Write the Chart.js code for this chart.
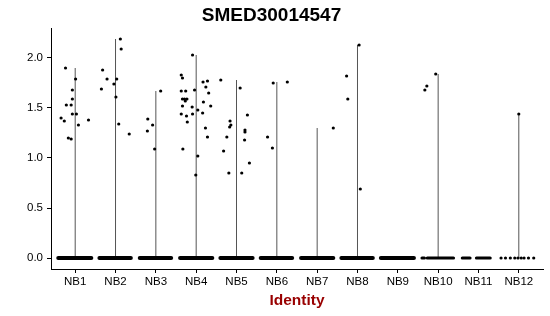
<!DOCTYPE html>
<html><head><meta charset="utf-8">
<script src="https://cdn.jsdelivr.net/npm/chart.js@4"></script>
<style>html,body{margin:0;padding:0;background:#fff}</style>
</head><body>
<canvas id="c" width="550" height="316"></canvas>
<script>
const categories = ['NB1','NB2','NB3','NB4','NB5','NB6','NB7','NB8','NB9','NB10','NB11','NB12'];
const yTicks = [0, 0.5, 1.0, 1.5, 2.0];
const titleText = 'SMED30014547';
const xTitle = 'Identity';

// non-zero expression values per cluster
const nonzeroValues = [
  [1.90,1.40,1.37,1.53,1.53,1.59,1.68,1.79,1.44,1.44,1.33,1.20,1.19,1.38],
  [1.88,1.79,1.69,1.74,1.79,1.61,2.19,2.09,1.34,1.24],
  [1.39,1.27,1.33,1.09,1.67],
  [2.03,1.83,1.80,1.67,1.67,1.68,1.59,1.59,1.59,1.57,1.52,1.51,1.44,1.42,1.36,1.44,1.48,1.76,1.77,1.71,1.65,1.56,1.52,1.45,1.30,1.21,1.09,1.02,0.83],
  [1.78,1.70,1.37,1.31,1.33,1.21,1.07,1.43,1.28,1.26,1.18,0.85,0.85,0.95],
  [1.75,1.76,1.10,1.21],
  [1.30],
  [2.13,1.82,1.59,0.69],
  [],
  [1.84,1.72,1.68],
  [],
  [1.44]
];
// horizontal jitter of each point (category units)
const jitterOffsets = [
  [-0.24,-0.35,-0.27,-0.22,-0.10,-0.07,-0.07,0.01,-0.07,0.03,0.08,-0.17,-0.10,0.33],
  [-0.32,-0.21,-0.35,-0.04,0.03,0.01,0.12,0.14,0.08,0.34],
  [-0.20,-0.21,-0.08,-0.03,0.12],
  [-0.09,-0.37,-0.34,-0.37,-0.26,-0.04,-0.34,-0.29,-0.23,-0.27,-0.34,-0.10,-0.37,-0.24,-0.22,-0.09,0.04,0.17,0.28,0.24,0.31,0.18,0.36,0.16,0.23,0.28,-0.33,0.04,-0.01],
  [-0.39,0.09,-0.16,-0.17,-0.14,-0.24,-0.32,0.27,0.21,0.21,0.20,-0.19,0.13,0.32],
  [-0.09,0.26,-0.11,-0.23],
  [0.40],
  [0.04,-0.27,-0.24,0.07],
  [],
  [-0.06,-0.28,-0.33],
  [],
  [0.00]
];
// spans of the dense zero-valued point bands (category units)
const zeroBands = [
  [[-0.42,0.40]],[[-0.40,0.38]],[[-0.40,0.38]],[[-0.40,0.40]],[[-0.40,0.40]],
  [[-0.40,0.38]],[[-0.40,0.40]],[[-0.40,0.38]],[[-0.42,0.40]],
  [[-0.40,-0.34],[-0.27,0.38]],[[-0.40,-0.21],[-0.05,0.29]],[]
];
// single zero-valued points where the band is sparse (NB12)
const zeroDots = [[],[],[],[],[],[],[],[],[],[],[],
  [-0.44,-0.33,-0.21,-0.10,-0.02,0.06,0.13,0.24,0.37]];

const FONT = "'Liberation Sans', Arial, Helvetica, sans-serif";
const datasets = [];

const pts = [];
nonzeroValues.forEach((vals, i) => vals.forEach((v, k) => pts.push({x: i + 1 + jitterOffsets[i][k], y: v})));
zeroDots.forEach((offs, i) => offs.forEach(o => pts.push({x: i + 1 + o, y: 0})));
datasets.push({data: pts, showLine: false, pointRadius: 1.6, pointBackgroundColor: '#000', pointBorderWidth: 0});

zeroBands.forEach((bands, i) => bands.forEach(b => {
  datasets.push({data: [{x: i + 1 + b[0], y: 0}, {x: i + 1 + b[1], y: 0}], showLine: true,
    borderColor: '#000', borderWidth: i >= 9 ? 3.2 : 4, borderCapStyle: 'round', pointRadius: 0});
}));

nonzeroValues.forEach((vals, i) => {
  if (!vals.length) return;
  const top = Math.max(...vals);
  datasets.push({data: [{x: i + 1, y: 0}, {x: i + 1, y: top}], showLine: true,
    borderColor: '#555', borderWidth: 1, pointRadius: 0});
});

new Chart(document.getElementById('c'), {
  type: 'scatter',
  data: {datasets},
  options: {
    responsive: false, animation: false, devicePixelRatio: 1,
    layout: {padding: {left: 0, right: 7, top: 0, bottom: 0}},
    plugins: {
      legend: {display: false}, tooltip: {enabled: false},
      title: {display: true, text: titleText, color: '#000', align: 'center',
        font: {family: FONT, size: 19, weight: 'bold', lineHeight: 1.2}, padding: {top: 4, bottom: 1.2}}
    },
    scales: {
      x: {
        type: 'linear', min: 0.4, max: 12.6,
        afterBuildTicks: s => { s.ticks = categories.map((c, i) => ({value: i + 1})); },
        afterFit: s => { s.height = 47; },
        ticks: {callback: v => categories[Math.round(v) - 1], color: '#000', font: {family: FONT, size: 11.5}, padding: 2, maxRotation: 0, autoSkip: false},
        grid: {drawOnChartArea: false, drawTicks: true, tickLength: 4, tickColor: '#000', tickWidth: 1},
        border: {display: true, color: '#000', width: 1},
        title: {display: true, text: xTitle, color: '#990000', font: {family: FONT, size: 15.5, weight: 'bold'}, padding: {top: 3, bottom: 6}}
      },
      y: {
        type: 'linear', min: -0.11, max: 2.30,
        afterBuildTicks: s => { s.ticks = yTicks.map(v => ({value: v})); },
        afterFit: s => { s.width = 51; },
        ticks: {callback: v => Number(v).toFixed(1), color: '#000', font: {family: FONT, size: 11.5}, padding: 4},
        grid: {drawOnChartArea: false, drawTicks: true, tickLength: 4, tickColor: '#000', tickWidth: 1},
        border: {display: true, color: '#000', width: 1}
      }
    }
  }
});
</script>
</body></html>
